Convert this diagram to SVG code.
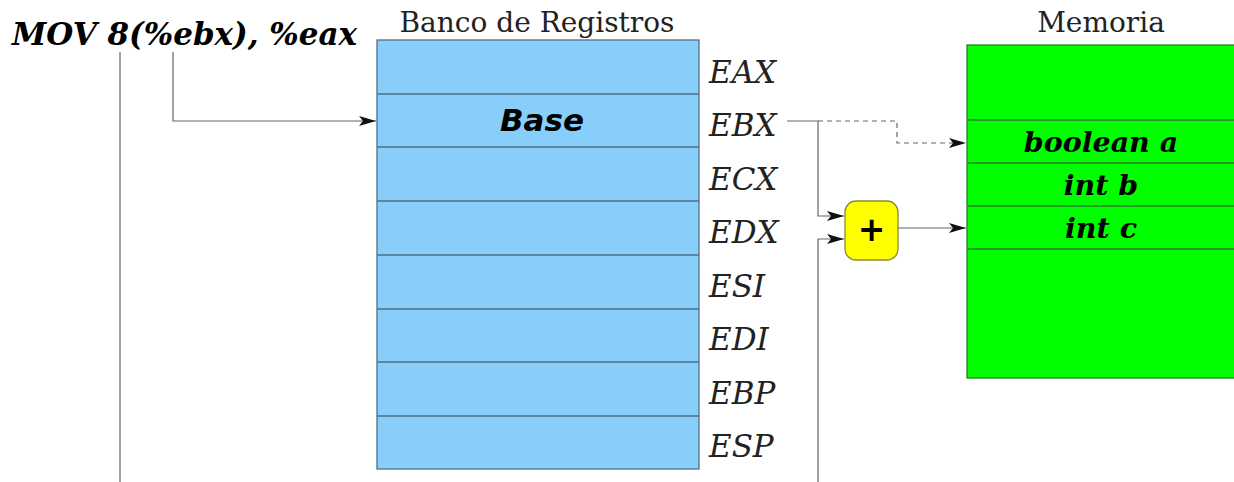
<svg xmlns="http://www.w3.org/2000/svg" width="1234" height="482" viewBox="0 0 1234 482">
<style>
.reg{fill:#87cefa;stroke:#4f6f85;stroke-width:1.3}
.mem{fill:#00ff00;stroke:#2f7a2f;stroke-width:1.3}
.title{font-family:"DejaVu Serif",serif;font-size:28px;fill:#222}
.rlab{font-family:"DejaVu Serif",serif;font-style:italic;font-size:31px;fill:#222}
.bi{font-family:"DejaVu Serif",serif;font-style:italic;font-weight:bold;font-size:28.5px;fill:#000}
.base{font-family:"DejaVu Sans",sans-serif;font-style:italic;font-weight:bold;font-size:31px;fill:#000}
.ln{fill:none;stroke:#666;stroke-width:1.2}
.dash{fill:none;stroke:#666;stroke-width:1.2;stroke-dasharray:5,4}
</style>
<defs>
<marker id="ah" markerWidth="17" markerHeight="10" refX="17" refY="5" orient="auto" markerUnits="userSpaceOnUse">
<path d="M0,0 L17,5 L0,10 L4,5 Z" fill="#111"/>
</marker>
</defs>
<rect width="1234" height="482" fill="#fff"/>

<g id="instruction">
<text class="bi" x="12" y="45" font-size="31" style="font-size:31px" textLength="345" lengthAdjust="spacingAndGlyphs">MOV 8(%ebx), %eax</text>
</g>

<g id="banco">
<text class="title" x="537" y="32" text-anchor="middle">Banco de Registros</text>
<rect class="reg" x="377" y="40" width="322" height="429"/>
<path class="reg" d="M377,94H699M377,147H699M377,201H699M377,255H699M377,309H699M377,362H699M377,416H699"/>
<text class="base" x="542" y="131" text-anchor="middle">Base</text>
<text class="rlab" x="709" y="83">EAX</text>
<text class="rlab" x="709" y="136">EBX</text>
<text class="rlab" x="709" y="190">ECX</text>
<text class="rlab" x="709" y="243">EDX</text>
<text class="rlab" x="709" y="297">ESI</text>
<text class="rlab" x="709" y="350">EDI</text>
<text class="rlab" x="709" y="404">EBP</text>
<text class="rlab" x="709" y="457">ESP</text>
</g>

<g id="sumador">
<rect x="845" y="201" width="53" height="59" rx="11" fill="#ffff00" stroke="#8a8a3a" stroke-width="1.3"/>
<text x="871.5" y="241" text-anchor="middle" font-family="DejaVu Sans,sans-serif" font-weight="bold" font-size="33" fill="#000">+</text>
</g>

<g id="memoria">
<text class="title" x="1101" y="32" text-anchor="middle">Memoria</text>
<rect class="mem" x="967" y="45" width="270" height="333"/>
<path class="mem" d="M967,120H1237M967,163H1237M967,206H1237M967,249H1237"/>
<text class="bi" x="1101" y="152" text-anchor="middle">boolean a</text>
<text class="bi" x="1101" y="195" text-anchor="middle">int b</text>
<text class="bi" x="1101" y="238" text-anchor="middle">int c</text>
</g>

<g id="connectors">
<path class="ln" d="M120,52V482"/>
<path class="ln" d="M173,52V121H376" marker-end="url(#ah)"/>
<path class="ln" d="M787,121H818V216H844" marker-end="url(#ah)"/>
<path class="dash" d="M818,121H897V143H966" marker-end="url(#ah)"/>
<path class="ln" d="M818,482V239H844" marker-end="url(#ah)"/>
<path class="ln" d="M898,228H966" marker-end="url(#ah)"/>
</g>
</svg>
